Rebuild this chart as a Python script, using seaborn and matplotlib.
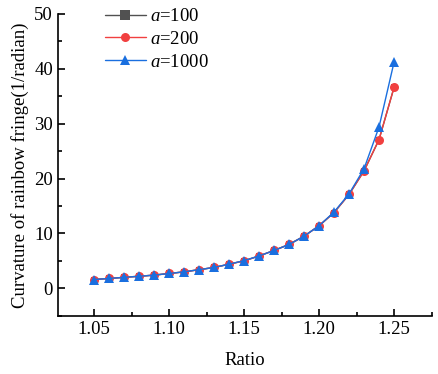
import numpy as np
import pandas as pd
import matplotlib
matplotlib.use("Agg")
import matplotlib.pyplot as plt
from matplotlib.ticker import MultipleLocator
import seaborn as sns

# Ratio values on the x axis
ratio = [1.05, 1.06, 1.07, 1.08, 1.09, 1.10, 1.11, 1.12, 1.13, 1.14, 1.15,
         1.16, 1.17, 1.18, 1.19, 1.20, 1.21, 1.22, 1.23, 1.24, 1.25]

# Curvature of rainbow fringe for each a
curv_100 = [1.6, 1.8, 2.0, 2.2, 2.4, 2.7, 3.0, 3.4, 3.8, 4.4, 5.0,
            5.9, 6.9, 8.0, 9.5, 11.4, 13.8, 17.1, 21.4, 27.1, 36.6]
curv_200 = [1.6, 1.8, 2.0, 2.2, 2.4, 2.7, 3.0, 3.4, 3.8, 4.4, 5.0,
            5.9, 6.9, 8.0, 9.5, 11.4, 13.8, 17.1, 21.4, 27.1, 36.6]
curv_1000 = [1.6, 1.8, 2.0, 2.2, 2.4, 2.7, 3.0, 3.4, 3.8, 4.4, 5.05,
             5.9, 6.9, 8.0, 9.5, 11.4, 13.9, 17.2, 21.8, 29.4, 41.2]

labels = ["$a$=100", "$a$=200", "$a$=1000"]

df = pd.concat([
    pd.DataFrame({"Ratio": ratio, "Curvature": curv_100, "a": labels[0]}),
    pd.DataFrame({"Ratio": ratio, "Curvature": curv_200, "a": labels[1]}),
    pd.DataFrame({"Ratio": ratio, "Curvature": curv_1000, "a": labels[2]}),
], ignore_index=True)

sns.set_style("ticks")
plt.rcParams["font.family"] = ["Liberation Serif", "DejaVu Serif"]
plt.rcParams["mathtext.fontset"] = "custom"
plt.rcParams["mathtext.it"] = "Liberation Serif:italic"
plt.rcParams["mathtext.rm"] = "Liberation Serif"
plt.rcParams["text.color"] = "black"
plt.rcParams["axes.labelcolor"] = "black"
plt.rcParams["xtick.color"] = "black"
plt.rcParams["ytick.color"] = "black"

palette = {labels[0]: "#515151", labels[1]: "#F14040", labels[2]: "#1A6FDF"}
markers = {labels[0]: "s", labels[1]: "o", labels[2]: "^"}
msize = {labels[0]: 5, labels[1]: 6.5, labels[2]: 7}

fig, ax = plt.subplots(figsize=(4.39, 3.74), dpi=100)
fig.subplots_adjust(left=0.132, right=0.984, bottom=0.155, top=0.963)

sns.lineplot(data=df, x="Ratio", y="Curvature", hue="a", style="a",
             palette=palette, markers=markers, dashes=False,
             markeredgewidth=0, linewidth=1.0, ax=ax)

for line, lab in zip(ax.lines, labels):
    line.set_markersize(msize[lab])

ax.set_xlim(1.0258, 1.2753)
ax.set_ylim(-5.05, 50)
ax.xaxis.set_major_locator(MultipleLocator(0.05))
ax.xaxis.set_minor_locator(MultipleLocator(0.025))
ax.yaxis.set_major_locator(MultipleLocator(10))
ax.yaxis.set_minor_locator(MultipleLocator(5))
ax.xaxis.set_major_formatter(matplotlib.ticker.FormatStrFormatter("%.2f"))
ax.tick_params(which="major", direction="in", length=5, width=1.2, labelsize=13.5)
ax.tick_params(which="minor", direction="in", length=3, width=1.2)
ax.spines["left"].set_linewidth(1.2)
ax.spines["bottom"].set_linewidth(1.2)
ax.spines["left"].set_color("black")
ax.spines["bottom"].set_color("black")
sns.despine(ax=ax)

ax.set_xlabel("Ratio", fontsize=13.5, labelpad=10)
ax.set_ylabel("Curvature of rainbow fringe(1/radian)", fontsize=13.5, labelpad=4)

leg = ax.legend(loc="upper left", bbox_to_anchor=(0.08, 1.075), frameon=False,
                fontsize=13.5, handlelength=2.2, handletextpad=0.2, labelspacing=0.3)
for h in leg.legend_handles:
    h.set_markersize(6.5)

fig.savefig("out.png", dpi=100)
